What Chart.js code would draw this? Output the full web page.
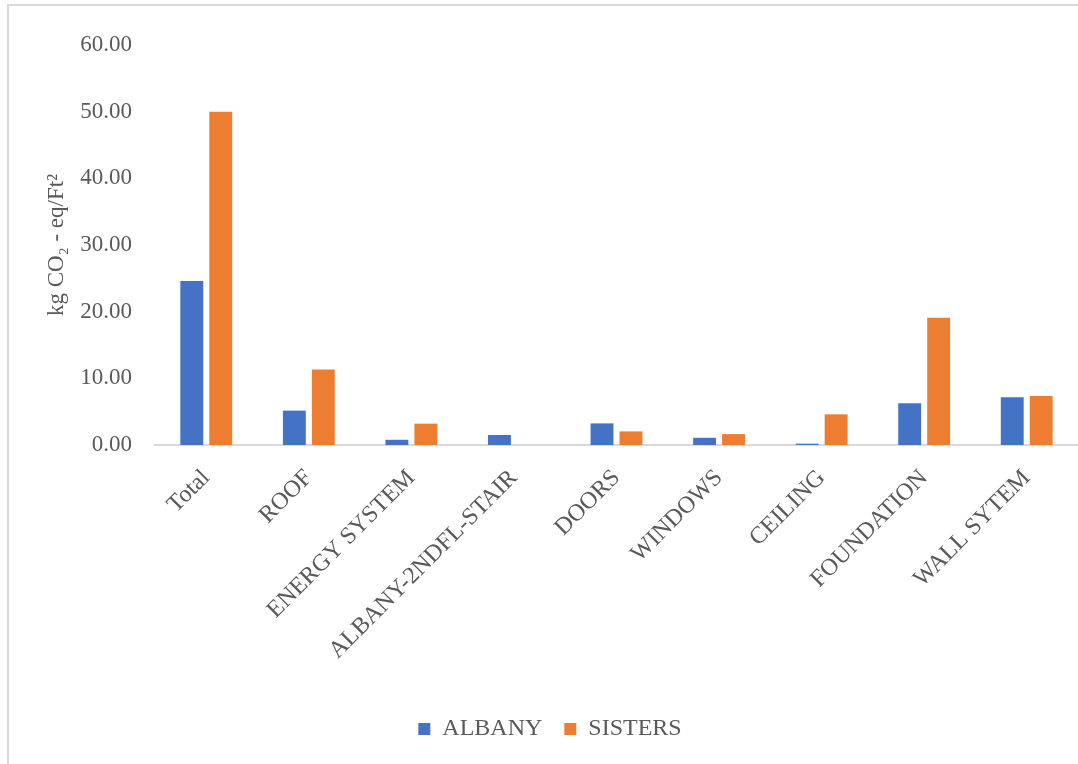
<!DOCTYPE html>
<html>
<head>
<meta charset="utf-8">
<script src="https://cdn.jsdelivr.net/npm/chart.js@4/dist/chart.umd.min.js"></script>
<style>
  html, body { margin: 0; padding: 0; overflow: hidden; background: #fff; }
  #frame {
    position: absolute; left: 7px; top: 4px; width: 1200px; height: 900px;
    border-left: 2px solid #d9d9d9; border-top: 2px solid #d9d9d9;
  }
  #chart { position: absolute; left: 0; top: 0; }
</style>
</head>
<body>
<div id="frame"></div>
<canvas id="chart" width="1103" height="764"></canvas>
<script>
const categories = ['Total', 'ROOF', 'ENERGY SYSTEM', 'ALBANY-2NDFL-STAIR', 'DOORS',
  'WINDOWS', 'CEILING', 'FOUNDATION', 'WALL SYTEM']
const albany = [24.6, 5.16, 0.78, 1.5, 3.24, 1.08, 0.2, 6.26, 7.16]
const sisters = [50.0, 11.34, 3.2, 0, 2.04, 1.63, 4.6, 19.08, 7.36]
const yTicks = [0, 10, 20, 30, 40, 50, 60]

const textColor = '#595959'
Chart.defaults.font.family = '"Liberation Serif", "Times New Roman", serif'
Chart.defaults.font.size = 23
Chart.defaults.color = textColor

// the legend sits a little right of the canvas middle
const legendShift = {
  id: 'legendShift',
  afterLayout(chart) {
    if (chart.legend) {
      chart.legend.left += 11
      chart.legend.right += 11
    }
  }
}

var chart = new Chart(document.getElementById('chart'), {
  type: 'bar',
  data: {
    labels: categories,
    datasets: [
      { label: 'ALBANY', data: albany, backgroundColor: '#4472C4' },
      { label: 'SISTERS', data: sisters, backgroundColor: '#ED7D31' }
    ]
  },
  plugins: [legendShift],
  options: {
    responsive: false,
    animation: false,
    categoryPercentage: 0.565,
    barPercentage: 0.79,
    layout: { padding: { top: 45, right: 25, bottom: 13, left: 0 } },
    plugins: {
      tooltip: { enabled: false },
      legend: {
        position: 'bottom',
        labels: { boxWidth: 12, boxHeight: 12, padding: 22, font: { size: 24 } }
      }
    },
    scales: {
      x: {
        grid: { display: false },
        border: { display: true, color: '#d9d9d9', width: 2 },
        ticks: { minRotation: 45, maxRotation: 45, autoSkip: false, padding: 11, font: { size: 24 } },
        afterFit: (scale) => { scale.height = 250 }
      },
      y: {
        min: 0,
        max: 60,
        grid: { display: false },
        border: { display: false },
        afterBuildTicks: (scale) => { scale.ticks = yTicks.map(v => ({ value: v })) },
        afterFit: (scale) => { scale.width = 155 },
        ticks: { padding: 15, callback: (v) => Number(v).toFixed(2) },
        title: {
          display: true,
          text: 'kg CO\u2082 - eq/Ft\u00b2',
          font: { size: 23 },
          padding: { top: 43, bottom: 0 }
        }
      }
    }
  }
})
</script>
</body>
</html>
